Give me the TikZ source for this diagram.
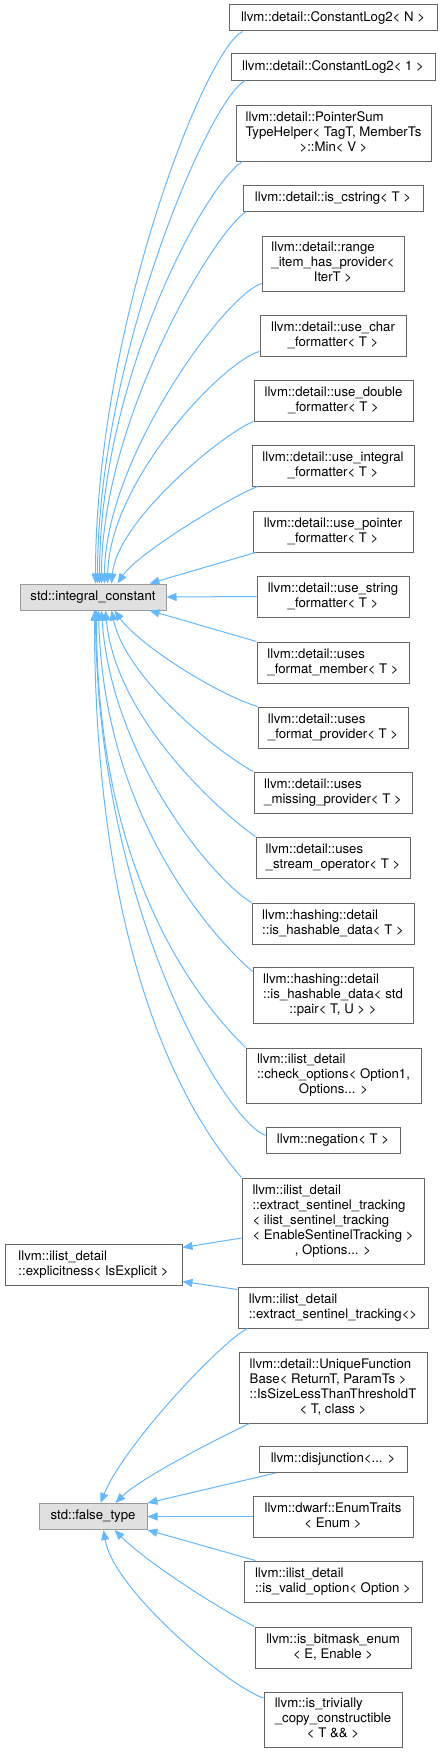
\documentclass[tikz,border=0pt]{standalone}
\usepackage{fontspec}
\setmainfont{TeX Gyre Heros}
\usetikzlibrary{arrows.meta,calc}
\definecolor{edgeblue}{HTML}{63B8FF}
\definecolor{boxgray}{HTML}{666666}
\definecolor{rootgray}{HTML}{999999}
\definecolor{rootfill}{HTML}{E0E0E0}
\newcommand{\lastc}[1]{\multicolumn{1}{@{}c@{}}{#1}}
\newcommand{\ml}[1]{\begin{tabular}{@{}l@{}}#1\end{tabular}}
\begin{document}
\begin{tikzpicture}[x=1pt,y=-1pt,
  font=\fontsize{13.2}{15}\selectfont,
  cls/.style={draw=boxgray,fill=white,line width=1pt,inner sep=0pt},
  root/.style={cls,draw=rootgray,fill=rootfill},
  edge/.style={draw=edgeblue,line width=1pt,-{Triangle[length=10pt,width=8pt]}}]
\useasboundingbox (0,0) rectangle (442,1753);

% parents
\node[root,minimum width=146,minimum height=26] (ic) at (93,597) {std::integral\_constant};
\node[cls,minimum width=177,minimum height=41] (ex) at (93.5,1264.5) {\ml{llvm::ilist\_detail\\::explicitness< IsExplicit >}};
\node[root,minimum width=108,minimum height=26] (ft) at (93,1516.5) {std::false\_type};

% children
\node[cls,minimum width=208,minimum height=26] (cln) at (333,18) {llvm::detail::ConstantLog2< N >};
\node[cls,minimum width=204,minimum height=26] (cl1) at (333,67) {llvm::detail::ConstantLog2< 1 >};
\node[cls,minimum width=195,minimum height=56] (ps) at (333.5,133) {\ml{llvm::detail::PointerSum\\TypeHelper< TagT, MemberTs\\\lastc{>::Min< V >}}};
\node[cls,minimum width=180,minimum height=26] (isc) at (333,198) {llvm::detail::is\_cstring< T >};
\node[cls,minimum width=142,minimum height=55] (rih) at (333,263.5) {\ml{llvm::detail::range\\\_item\_has\_provider<\\\lastc{IterT >}}};
\node[cls,minimum width=146,minimum height=41] (uch) at (333,335.5) {\ml{llvm::detail::use\_char\\\lastc{\_formatter< T >}}};
\node[cls,minimum width=159,minimum height=41] (udb) at (333.5,400.5) {\ml{llvm::detail::use\_double\\\lastc{\_formatter< T >}}};
\node[cls,minimum width=162,minimum height=41] (uin) at (333,465.5) {\ml{llvm::detail::use\_integral\\\lastc{\_formatter< T >}}};
\node[cls,minimum width=160,minimum height=41] (upt) at (333,531.5) {\ml{llvm::detail::use\_pointer\\\lastc{\_formatter< T >}}};
\node[cls,minimum width=152,minimum height=41] (ust) at (333,596.5) {\ml{llvm::detail::use\_string\\\lastc{\_formatter< T >}}};
\node[cls,minimum width=152,minimum height=41] (ufm) at (333,662.5) {\ml{llvm::detail::uses\\\lastc{\_format\_member< T >}}};
\node[cls,minimum width=150,minimum height=41] (ufp) at (333,727.5) {\ml{llvm::detail::uses\\\lastc{\_format\_provider< T >}}};
\node[cls,minimum width=158,minimum height=41] (ump) at (333,792.5) {\ml{llvm::detail::uses\\\lastc{\_missing\_provider< T >}}};
\node[cls,minimum width=154,minimum height=41] (uso) at (333,857.5) {\ml{llvm::detail::uses\\\lastc{\_stream\_operator< T >}}};
\node[cls,minimum width=162,minimum height=41] (hht) at (333,923.5) {\ml{llvm::hashing::detail\\\lastc{::is\_hashable\_data< T >}}};
\node[cls,minimum width=160,minimum height=56] (hhp) at (333,995) {\ml{llvm::hashing::detail\\::is\_hashable\_data< std\\\lastc{::pair< T, U > >}}};
\node[cls,minimum width=175,minimum height=55] (cop) at (333.5,1075.5) {\ml{llvm::ilist\_detail\\::check\_options< Option1,\\\lastc{Options... >}}};
\node[cls,minimum width=134,minimum height=26] (neg) at (333,1140.5) {llvm::negation< T >};
\node[cls,minimum width=182,minimum height=86] (est) at (333,1221) {\ml{llvm::ilist\_detail\\::extract\_sentinel\_tracking\\< ilist\_sentinel\_tracking\\< EnableSentinelTracking >\\\lastc{, Options... >}}};
\node[cls,minimum width=190,minimum height=41] (es0) at (333,1307.5) {\ml{llvm::ilist\_detail\\\lastc{::extract\_sentinel\_tracking<>}}};
\node[cls,minimum width=188,minimum height=71] (ufb) at (333,1387.5) {\ml{llvm::detail::UniqueFunction\\Base< ReturnT, ParamTs >\\::IsSizeLessThanThresholdT\\\lastc{< T, class >}}};
\node[cls,minimum width=148,minimum height=26] (dis) at (333,1459.5) {llvm::disjunction<... >};
\node[cls,minimum width=160,minimum height=41] (enu) at (333,1516.5) {\ml{llvm::dwarf::EnumTraits\\\lastc{< Enum >}}};
\node[cls,minimum width=178,minimum height=41] (ivo) at (333,1581.5) {\ml{llvm::ilist\_detail\\\lastc{::is\_valid\_option< Option >}}};
\node[cls,minimum width=156,minimum height=41] (ibe) at (333,1647.5) {\ml{llvm::is\_bitmask\_enum\\\lastc{< E, Enable >}}};
\node[cls,minimum width=138,minimum height=55] (itc) at (333,1719.5) {\ml{llvm::is\_trivially\\\_copy\_constructible\\\lastc{< T \&\& >}}};

% edges into integral_constant (from above)
\draw[edge] ($(cln.south west)+(14,0)$) .. controls +(-38,19) and +(0,-254) .. ($(ic.north west)+(76,0)$);
\draw[edge] ($(cl1.south west)+(15,0)$) .. controls +(-36,17) and +(0,-224) .. ($(ic.north west)+(78,0)$);
\draw[edge] ($(ps.south west)+(7,0)$) .. controls +(-38,24) and +(0,-204) .. ($(ic.north west)+(80,0)$);
\draw[edge] ($(isc.south west)+(4,0)$) .. controls +(-32,19) and +(0,-164) .. ($(ic.north west)+(82,0)$);
\draw[edge] ($(rih.south west)+(0,-8)$) .. controls +(-37,12) and +(0,-124) .. ($(ic.north west)+(85,0)$);
\draw[edge] ($(uch.south west)+(0,-5)$) .. controls +(-35,9) and +(2,-104) .. ($(ic.north west)+(88,0)$);
\draw[edge] (udb.south west) .. controls +(-29,11) and +(6,-64) .. ($(ic.north west)+(92,0)$);
\draw[edge] ($(uin.south west)+(6,0)$) .. controls +(-30,12) and +(20,-30) .. ($(ic.north west)+(98,0)$);
\draw[edge] ($(upt.south west)+(3,0)$) -- ($(ic.north west)+(130,0)$);
\draw[edge] (ust.west) -- (ic.east);

% edges into integral_constant (from below)
\draw[edge] (ufm.north west) -- ($(ic.south west)+(130,0)$);
\draw[edge] (ufp.north west) .. controls +(-40,-12) and +(25,35) .. ($(ic.south west)+(95,0)$);
\draw[edge] (ump.north west) .. controls +(-30,-15) and +(15,70) .. ($(ic.south west)+(92,0)$);
\draw[edge] (uso.north west) .. controls +(-30,-20) and +(10,110) .. ($(ic.south west)+(86,0)$);
\draw[edge] (hht.north west) .. controls +(-35,-20) and +(10,150) .. ($(ic.south west)+(82,0)$);
\draw[edge] ($(hhp.north west)+(0,5)$) .. controls +(-35,-30) and +(5,210) .. ($(ic.south west)+(79,0)$);
\draw[edge] (cop.north west) .. controls +(-35,-35) and +(0,280) .. ($(ic.south west)+(77,0)$);
\draw[edge] ($(neg.west)+(0,-5)$) .. controls +(-40,-15) and +(2,300) .. ($(ic.south west)+(76,0)$);
\draw[edge] (est.north west) .. controls +(-32,-38) and +(0,389) .. ($(ic.south west)+(75,0)$);

% edges into explicitness
\draw[edge] ($(est.west)+(0,17)$) -- ($(ex.east)+(0,-17)$);
\draw[edge] ($(es0.north west)+(0,3)$) -- ($(ex.east)+(0,17)$);

% edges into false_type
\draw[edge] ($(es0.south west)+(10,0)$) .. controls +(-25,12) and +(24,-59) .. ($(ft.north west)+(62,0)$);
\draw[edge] ($(ufb.south west)+(11,0)$) .. controls +(-30,14) and +(25,-25) .. ($(ft.north west)+(77,0)$);
\draw[edge] ($(dis.south west)+(17,0)$) -- (ft.north east);
\draw[edge] (enu.west) -- (ft.east);
\draw[edge] ($(ivo.north west)+(12,0)$) -- (ft.south east);
\draw[edge] (ibe.north west) .. controls +(-43,-22) and +(30,30) .. ($(ft.south west)+(76,0)$);
\draw[edge] ($(itc.west)+(0,-21.5)$) .. controls +(-36,-12) and +(10,60) .. ($(ft.south west)+(65,0)$);
\end{tikzpicture}
\end{document}
